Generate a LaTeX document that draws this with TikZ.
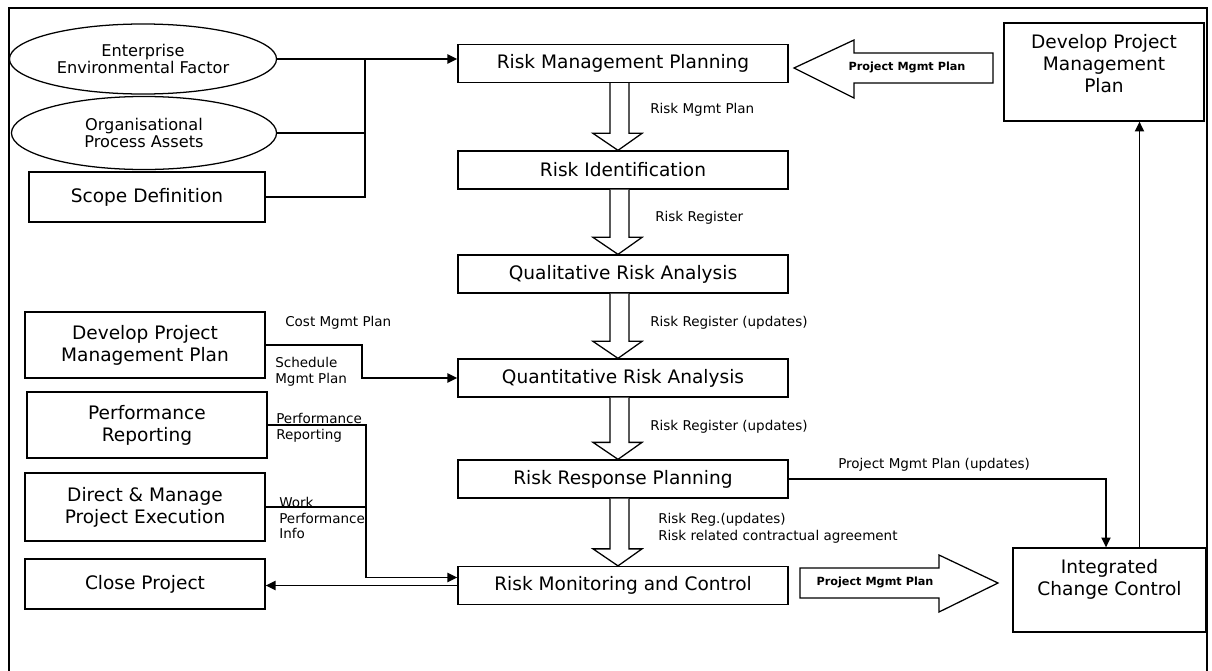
\documentclass[tikz,border=0pt]{standalone}
\usepackage{fontspec}
\setmainfont{DejaVu Sans}
\usetikzlibrary{arrows.meta,calc,shapes.geometric}

\begin{document}
\begin{tikzpicture}  % ------ processus de gestion des risques --------------
      [x=0.025cm,y=-0.025cm,
       proc/.style={draw,line width=0.9pt,minimum width=8.25cm,minimum height=0.95cm,
                    font=\fontsize{13.2}{15.6}\selectfont},
       side/.style={draw,line width=0.9pt,align=center,font=\fontsize{13.2}{15.6}\selectfont},
       oval/.style={draw,ellipse,line width=0.9pt,align=center,inner sep=0pt,
                    font=\fontsize{11.5}{12.5}\selectfont},
       lab/.style={anchor=west,align=left,inner sep=0pt,font=\fontsize{9.6}{12}\selectfont},
       fat/.style={draw,line width=0.9pt,fill=white},
       fatlab/.style={inner sep=0pt,font=\fontsize{8}{9}\bfseries\selectfont},
       wire/.style={line width=1.1pt},
       arr/.style={line width=1.1pt,-{Triangle[length=7pt,width=6.5pt]}}]
    \useasboundingbox (0,0) rectangle (1212,671);
    \draw[line width=0.9pt] (9,671) -- (9,8) -- (1207,8) -- (1207,671);

    % ------ colonne centrale ------
    \node[proc] (rmp)   at (623,63.5) {Risk Management Planning};
    \node[proc] (rid)   at (623,170)  {Risk Identification};
    \node[proc] (qual)  at (623,274)  {Qualitative Risk Analysis};
    \node[proc] (quant) at (623,378)  {Quantitative Risk Analysis};
    \node[proc] (rrp)   at (623,479)  {Risk Response Planning};
    \node[proc] (rmc)   at (623,585.5) {Risk Monitoring and Control};

    \foreach \a/\b in {rmp/rid,rid/qual,qual/quant,quant/rrp,rrp/rmc}
      \draw[fat] ($(\a.south)+(-13,0)$) -- ($(\b.north)+(-13,-17)$) -- ($(\b.north)+(-30,-17)$)
        -- ($(\b.north)+(-5,0)$) -- ($(\b.north)+(19,-17)$) -- ($(\b.north)+(6,-17)$)
        -- ($(\a.south)+(6,0)$);

    \node[lab] (l1) at (650,110) {Risk Mgmt Plan};
    \node[lab] (l2) at (655,218) {Risk Register};
    \node[lab] (l3) at (650,323) {Risk Register (updates)};
    \node[lab] (l4) at (650,427) {Risk Register (updates)};
    \node[lab] (l5) at (658,528) {Risk Reg.(updates)\\Risk related contractual agreement};

    % ------ entrees a gauche ------
    \node[oval,minimum width=6.675cm,minimum height=1.75cm] (eef) at (143,59)
          {Enterprise\\Environmental Factor};
    \node[oval,minimum width=6.625cm,minimum height=1.825cm] (opa) at (144,133)
          {Organisational\\Process Assets};
    \node[side,minimum width=5.9cm,minimum height=1.25cm] (scope) at (147,197) {Scope Definition};
    \coordinate (jn) at (365,0);
    \draw[arr] (eef.east) -- (eef.east -| rmp.west);
    \draw[wire] (opa.east) -- (opa.east -| jn);
    \draw[wire] (scope.east) -| (jn |- eef.east);

    \node[side,minimum width=6cm,minimum height=1.65cm] (dpmpl) at (145,345)
          {Develop Project\\Management Plan};
    \node[side,minimum width=6cm,minimum height=1.65cm] (perf) at (147,425)
          {Performance\\Reporting};
    \node[side,minimum width=6cm,minimum height=1.7cm] (dmpe) at (145,507)
          {Direct \& Manage\\Project Execution};
    \node[side,minimum width=6cm,minimum height=1.25cm] (close) at (145,584) {Close Project};

    \coordinate (jq) at (362,0);
    \coordinate (jp) at (366,0);
    \draw[arr] (dpmpl.east) -- (dpmpl.east -| jq) |- (quant.west);
    \draw[arr] (perf.east) -- (perf.east -| jp) |- ($(rmc.west)+(0,-8)$);
    \draw[wire] (dmpe.east) -- (dmpe.east -| jp);
    \draw[arr] (rmc.west) -- (rmc.west -| close.east);

    \node[lab] (l6) at (285,323) {Cost Mgmt Plan};
    \node[lab,font=\fontsize{9.6}{11.5}\selectfont] (l7) at (275,372) {Schedule\\Mgmt Plan};
    \node[lab,font=\fontsize{9.6}{11.5}\selectfont] (l8) at (276,428) {Performance\\Reporting};
    \node[lab,font=\fontsize{9.6}{10.7}\selectfont] (l9) at (279,518) {Work\\Performance\\Info};

    % ------ cote droit ------
    \node[draw,line width=0.9pt,minimum width=5cm,minimum height=2.45cm] (dpmp) at (1104,72) {};
    \node[side,draw=none] (dpmpt) at (1104,64) {Develop Project\\Management\\Plan};
    \node[draw,line width=0.9pt,minimum width=4.825cm,minimum height=2.1cm] (icc) at (1109.5,590) {};
    \node[side,draw=none] (icct) at (1109.5,579) {Integrated\\Change Control};

    \draw[fat] (993,53) -- (854,53) -- (854,40) -- (794,68) -- (854,98) -- (854,83) -- (993,83) -- cycle;
    \node[fatlab] (pin) at (907,67) {Project Mgmt Plan};
    \draw[fat] (800,568) -- (939,568) -- (939,555) -- (998,583) -- (939,612) -- (939,598) -- (800,598) -- cycle;
    \node[fatlab] (pout) at (875,582) {Project Mgmt Plan};

    \coordinate (up) at ($(icc.north)+(30,0)$);
    \draw[arr] (up) -- (up |- dpmp.south);
    \draw[arr] (rrp.east) -| ($(icc.north)+(-3.5,0)$);
    \node[lab] (l10) at (838,465) {Project Mgmt Plan (updates)};
\end{tikzpicture}
\end{document}
